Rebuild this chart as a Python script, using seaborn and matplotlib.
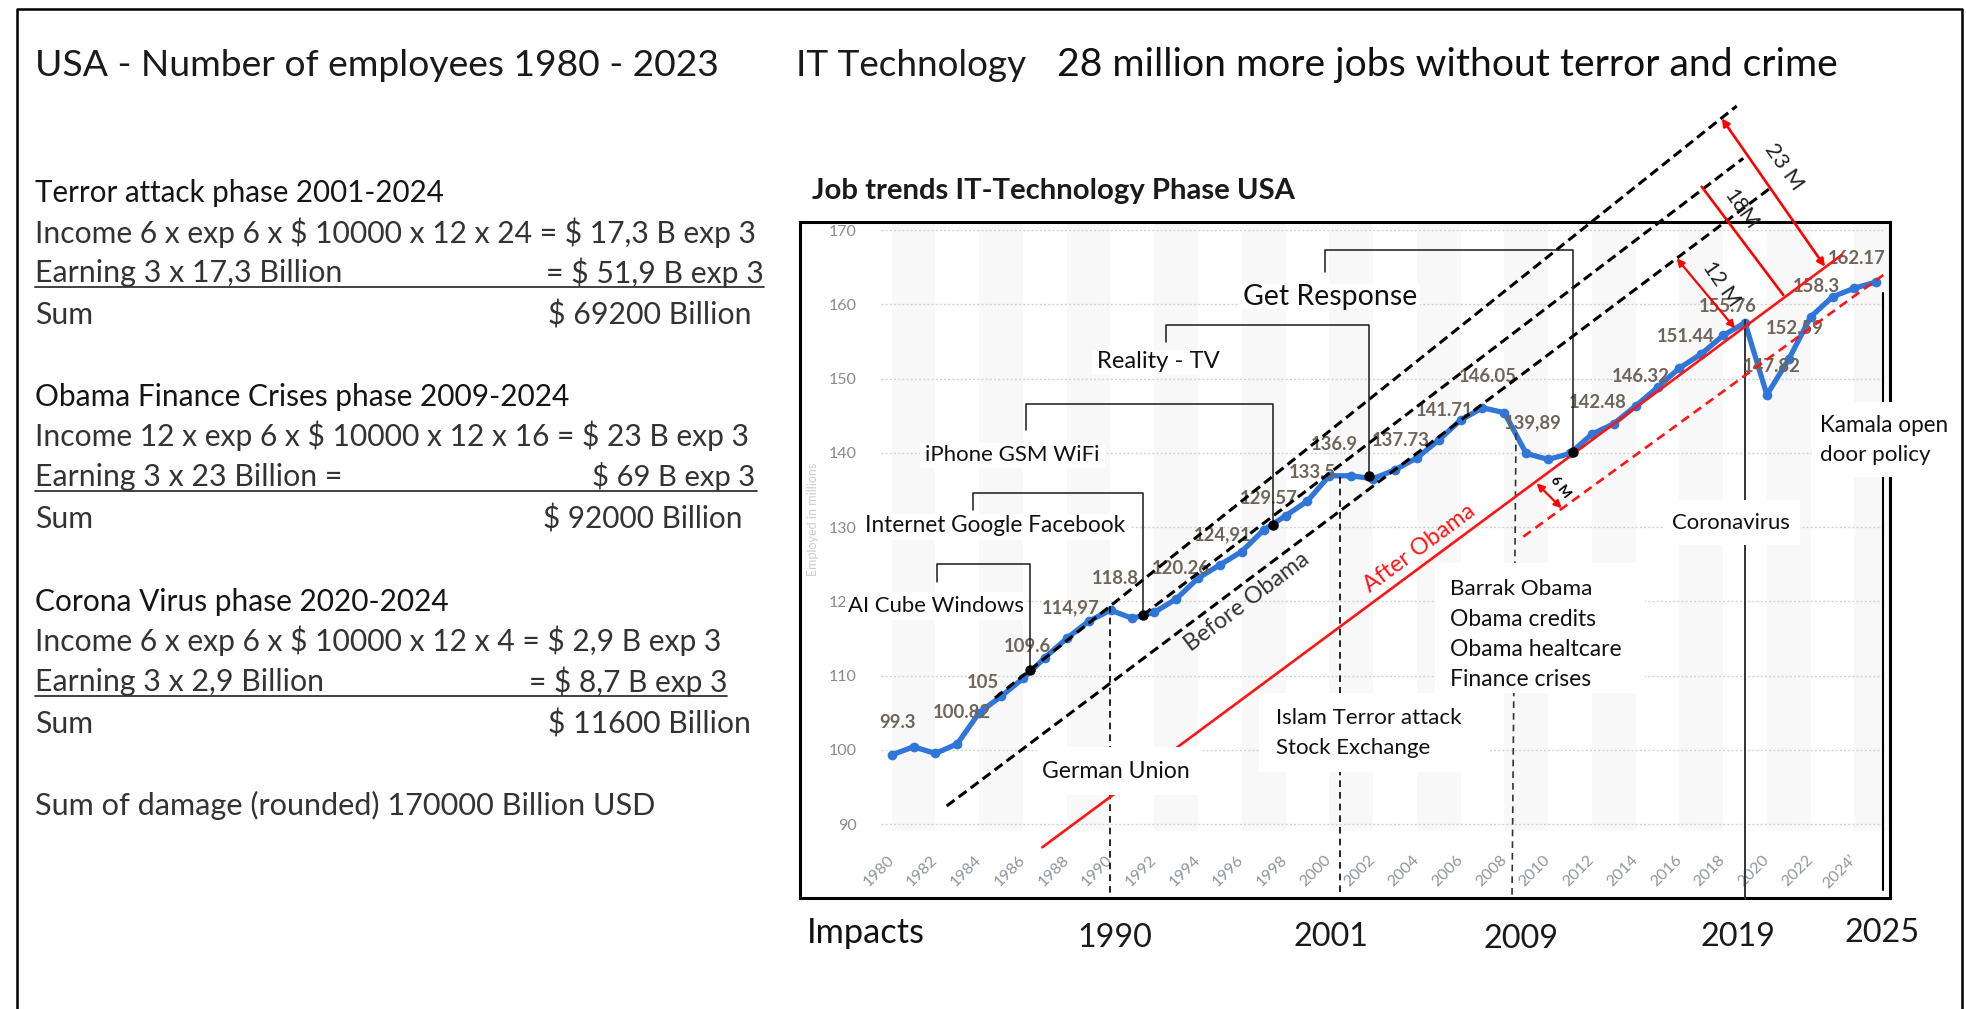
import numpy as np
import pandas as pd
import matplotlib
matplotlib.use("Agg")
import matplotlib.pyplot as plt
import seaborn as sns
from matplotlib.patches import Rectangle

# ---------------- data ----------------
years = list(range(1980, 2026))
employed = [99.3, 100.4, 99.5, 100.8, 105.0, 107.2, 109.6, 112.4, 115.0, 117.3,
            118.8, 117.7, 118.5, 120.3, 123.1, 124.9, 126.7, 129.6, 131.5, 133.5,
            136.9, 136.9, 136.5, 137.7, 139.3, 141.7, 144.4, 146.05, 145.4, 139.9,
            139.1, 139.9, 142.5, 143.9, 146.3, 148.8, 151.4, 153.3, 155.8, 157.5,
            147.8, 152.6, 158.3, 161.0, 162.17, 163.0]
value_labels = ["99.3", "100.82", "105", "109.6", "114,97", "118.8", "120.26", "124,91",
                "129.57", "133.5", "136.9", "137.73", "141.71", "146.05", "139,89",
                "142.48", "146.32", "151.44", "155.76", "147.82", "152.59", "158.3", "162.17"]
y_ticks = [90, 100, 110, 120, 130, 140, 150, 160, 170]
x_ticks = list(range(1980, 2025, 2))
x_tick_labels = [str(y) for y in range(1980, 2024, 2)] + ["2024'"]
impact_years = ["1990", "2001", "2009", "2019", "2025"]

left_texts = [
    "Terror attack phase 2001-2024",
    "Income 6 x exp 6 x $ 10000 x 12 x 24 = $ 17,3 B exp 3",
    "Earning 3 x 17,3 Billion", "= $ 51,9 B exp 3",
    "Sum", "$ 69200 Billion",
    "Obama Finance Crises phase 2009-2024",
    "Income 12 x exp 6 x $ 10000 x 12 x 16 = $ 23 B exp 3",
    "Earning 3 x 23 Billion =", "$ 69 B exp 3",
    "Sum", "$ 92000 Billion",
    "Corona Virus phase 2020-2024",
    "Income 6 x exp 6 x $ 10000 x 12 x 4 = $ 2,9 B exp 3",
    "Earning 3 x 2,9 Billion", "= $ 8,7 B exp 3",
    "Sum", "$ 11600 Billion",
    "Sum of damage (rounded) 170000 Billion USD",
]
events = ["Get Response", "Reality - TV", "iPhone GSM WiFi", "Internet Google Facebook",
          "AI Cube Windows", "German Union", "Islam Terror attack", "Stock Exchange",
          "Barrak Obama", "Obama credits", "Obama healtcare", "Finance crises",
          "Coronavirus", "Kamala open", "door policy"]

# ---------------- layout (pixels of the 1966x1009 canvas) ----------------
W, H = 1966, 1009
AX_L, AX_T, AX_R, AX_B = 800, 222, 1890, 898
X0, XS = 891.7, 21.88      # pixel of 1980, pixels per year
Y0, YS = 824.0, 7.425      # pixel of 90, pixels per unit

sns.set_theme(style="white")
plt.rcParams["font.family"] = ["Lato", "DejaVu Sans"]

fig = plt.figure(figsize=(W / 100, H / 100), dpi=100)
fig.patch.set_facecolor("white")
R = fig.canvas.get_renderer()

ax = fig.add_axes([AX_L / W, 1 - AX_B / H, (AX_R - AX_L) / W, (AX_B - AX_T) / H])
ax.set_zorder(1)
ax.set_xlim(1980 - (X0 - AX_L) / XS, 1980 + (AX_R - X0) / XS)
ax.set_ylim(90 - (AX_B - Y0) / YS, 90 + (Y0 - AX_T) / YS)

# background column bands
for start in range(1980, 2026, 4):
    ax.add_patch(Rectangle((start, 89), 2, 82.5, facecolor="#f8f8f8", edgecolor="none", zorder=0))
ax.hlines(y_ticks, 1979.5, 2025.3, colors="#d2d2d2", linestyles=(0, (1.5, 1.5)), lw=1.0, zorder=1)

sns.lineplot(x=years, y=employed, ax=ax, color="#2f76d8", lw=3.8, marker="o",
             markersize=7, markeredgewidth=0, zorder=3)

for s in ax.spines.values():
    s.set_visible(True)
    s.set_color("black")
    s.set_linewidth(2.2)
ax.set_yticks(y_ticks)
ax.set_yticklabels([str(v) for v in y_ticks], color="#8a8a8a", fontsize=11.5)
ax.tick_params(axis="y", length=0, pad=-41)
ax.set_xticks(x_ticks)
ax.set_xticklabels(x_tick_labels, rotation=45, ha="right", va="center",
                   rotation_mode="anchor", color="#8e959e", fontsize=11.5)
ax.tick_params(axis="x", length=0, pad=-29)
ax.set_xlabel("")
ax.set_ylabel("")
ax.text(0.006, 0.56, "Employed in millions", transform=ax.transAxes, rotation=90,
        fontsize=9, color="#cccccc", ha="left", va="center")

# ---------------- overlay in pixel coordinates ----------------
ov = fig.add_axes([0, 0, 1, 1])
ov.set_zorder(5)
ov.set_xlim(0, W)
ov.set_ylim(H, 0)
ov.axis("off")


def fit(x, y, s, width, ha="left", va="center", rot=0, size0=20, **kw):
    t = ov.text(x, y, s, ha=ha, va=va, fontsize=size0, parse_math=False, **kw)
    w = t.get_window_extent(renderer=R).width
    t.set_fontsize(size0 * width / w)
    if rot:
        t.set_rotation(rot)
        t.set_rotation_mode("anchor")
    return t


# outer frame
ov.plot([17, 17, 1962, 1962], [H + 5, 8.5, 8.5, H + 5], color="black", lw=1.8, zorder=1)

# headings
fit(35, 65, "USA - Number of employees 1980 - 2023", 685, color="#1a1a1a")
fit(796, 65, "IT Technology", 230, color="#1a1a1a")
fit(1057, 65, "28 million more jobs without terror and crime", 784, color="#111111")
fit(812, 190.6, "Job trends IT-Technology Phase USA", 482, color="#1a1a1a", weight="bold")

# left calculation panel
left_geom = [
    (35, 192.7, 409, "left", "#151515"), (35, 232.3, 724, "left", "#333333"),
    (35, 272.7, 307, "left", "#333333"), (764, 272.7, 218, "right", "#333333"),
    (35, 315, 58, "left", "#333333"), (751, 315, 203, "right", "#333333"),
    (35, 396.7, 535, "left", "#151515"), (35, 436, 715, "left", "#333333"),
    (35, 476.7, 307, "left", "#333333"), (755, 476.7, 163, "right", "#333333"),
    (35, 519.3, 58, "left", "#333333"), (742, 519.3, 200, "right", "#333333"),
    (35, 601.7, 414, "left", "#151515"), (35, 641, 688.5, "left", "#333333"),
    (35, 681.7, 289, "left", "#333333"), (727, 681.7, 199, "right", "#333333"),
    (35, 724, 58, "left", "#333333"), (751, 724, 203, "right", "#333333"),
    (35, 805, 623, "left", "#333333"),
]
for s, (x, y, w, ha, c) in zip(left_texts, left_geom):
    fit(x, y, s, w, ha=ha, color=c)
for y, x1 in [(287, 764), (491, 757), (696, 727)]:
    ov.plot([35, x1], [y, y], color="#333333", lw=1.3)

# vertical event markers
ov.plot([1109.5, 1109.5], [606, 900], color="black", lw=1.2, ls=(0, (4, 3)), zorder=1)
ov.plot([1340, 1340], [477, 900], color="black", lw=1.2, ls=(0, (4, 3)), zorder=1)
ov.plot([1516, 1512], [433, 900], color="#333333", lw=1.2, ls=(0, (4, 3)), zorder=1)
ov.plot([1745, 1745], [320, 898], color="#333333", lw=1.4, zorder=1)
ov.plot([1883.3, 1883.3], [293, 890], color="black", lw=1.5, zorder=1)

# red trend lines
ov.plot([1042.3, 1841.7], [847.3, 255], color="#ff1414", lw=1.9, zorder=1.5)
ov.plot([1523.3, 1883.3], [536.7, 275], color="#ff1414", lw=1.9, ls=(0, (3.5, 2.2)), zorder=1.5)

# white label boxes
for x0, y0, x1, y1 in [(845, 592, 1027, 620), (1037, 747, 1200, 795), (1259, 693, 1490, 772),
                       (1435, 563, 1645, 693), (1663, 500, 1800, 545), (1812, 402, 1955, 477),
                       (860, 514, 1130, 540), (920, 443, 1105, 468), (1092, 350, 1225, 375),
                       (1238, 284, 1420, 309)]:
    ov.add_patch(Rectangle((x0, y0), x1 - x0, y1 - y0, facecolor="white", edgecolor="none", zorder=2))

# black dashed trend lines
for (xa, ya), (xb, yb) in [((995, 698), (1736.7, 106)), ((1143, 615), (1743.3, 158.3)),
                           ((946.7, 806), (1770, 188.3))]:
    ov.plot([xa, xb], [ya, yb], color="black", lw=2.2, ls=(0, (3.2, 1.7)), zorder=3)

# event connectors
brackets = [
    [(1325.3, 271.7), (1325.3, 249.5), (1573, 249.5), (1573, 451.7)],
    [(1165.8, 341.7), (1165.8, 325), (1369, 325), (1369, 476)],
    [(1025.7, 430), (1025.7, 404.3), (1272.5, 404.3), (1272.5, 525)],
    [(972.5, 510), (972.5, 493.3), (1142.5, 493.3), (1142.5, 615)],
    [(936.7, 581.7), (936.7, 564), (1030, 564), (1030, 670)],
]
for br in brackets:
    xs, ys = zip(*br)
    ov.plot(xs, ys, color="#1a1a1a", lw=1.1, zorder=3)
    ov.plot([xs[-1]], [ys[-1]], "o", color="black", markersize=6.5, zorder=3.5)

# distance arrows
arrow_kw = dict(arrowstyle="<|-|>", color="#ff0000", lw=1.6, mutation_scale=11, shrinkA=0, shrinkB=0)
ov.annotate("", xy=(1561.7, 508.3), xytext=(1536.7, 483.3), arrowprops=arrow_kw, zorder=4)
ov.annotate("", xy=(1735, 328.3), xytext=(1676.7, 258.3), arrowprops=arrow_kw, zorder=4)
ov.plot([1701.7, 1783.3], [186.7, 295], color="#ff0000", lw=1.9, zorder=4)
ov.annotate("", xy=(1825, 266.7), xytext=(1721.7, 118.3),
            arrowprops=dict(arrow_kw, lw=1.9), zorder=4)
fit(1561, 487, "6 M", 24, ha="center", rot=-52, color="black", weight="bold")
fit(1721.7, 284, "12 M", 50, ha="center", rot=-55, color="#222222")
fit(1740.7, 210, "18M", 44, ha="center", rot=-55, color="#222222")
fit(1784, 167.3, "23 M", 52, ha="center", rot=-55, color="#222222")

fit(1246.7, 601.7, "Before Obama", 150, ha="center", rot=36.9, color="#333333")
fit(1420, 548.3, "After Obama", 133, ha="center", rot=36.5, color="#ff1414")

# value labels
label_xy = [(898, 723), (962, 713), (983, 682), (1027, 647), (1071, 608), (1115, 579),
            (1181, 568), (1223, 535), (1269, 499), (1312, 472), (1334, 445), (1401, 440),
            (1445, 410), (1488, 377), (1533, 423), (1598, 403), (1641, 377), (1686, 337),
            (1728, 306), (1772, 366), (1795, 329), (1816, 287), (1857, 259)]
probe = fit(0, 0, "129.57", 58, weight="bold")
lab_size = probe.get_fontsize()
probe.remove()
for s, (x, y) in zip(value_labels, label_xy):
    ov.text(x, y, s, ha="center", va="center", fontsize=lab_size, weight="bold",
            color="#6e655b", zorder=1.2)

# event annotations
event_geom = [(1243, 296.7, 174), (1097, 362, 123), (925, 455, 175), (865, 526, 260),
              (848, 605.7, 176), (1042, 771.7, 148), (1276, 717.7, 185), (1276, 747.7, 154),
              (1449.5, 589, 142), (1449.5, 619, 146), (1449.5, 649, 171), (1449.5, 679, 141),
              (1672, 523.3, 118), (1820, 425, 128), (1820, 455, 110)]
for s, (x, y, w) in zip(events, event_geom):
    t = fit(x, y, s, w, color="#111111")
    t.set_zorder(6)

# impacts row
fit(807, 933.3, "Impacts", 118, color="#111111")
for s, (x, y) in zip(impact_years, [(1115, 938), (1331, 936.7), (1521, 939), (1738, 936.7), (1882, 933.3)]):
    fit(x, y, s, 75, ha="center", color="#1a1a1a")

fig.savefig("out.png", dpi=100, facecolor="white")
